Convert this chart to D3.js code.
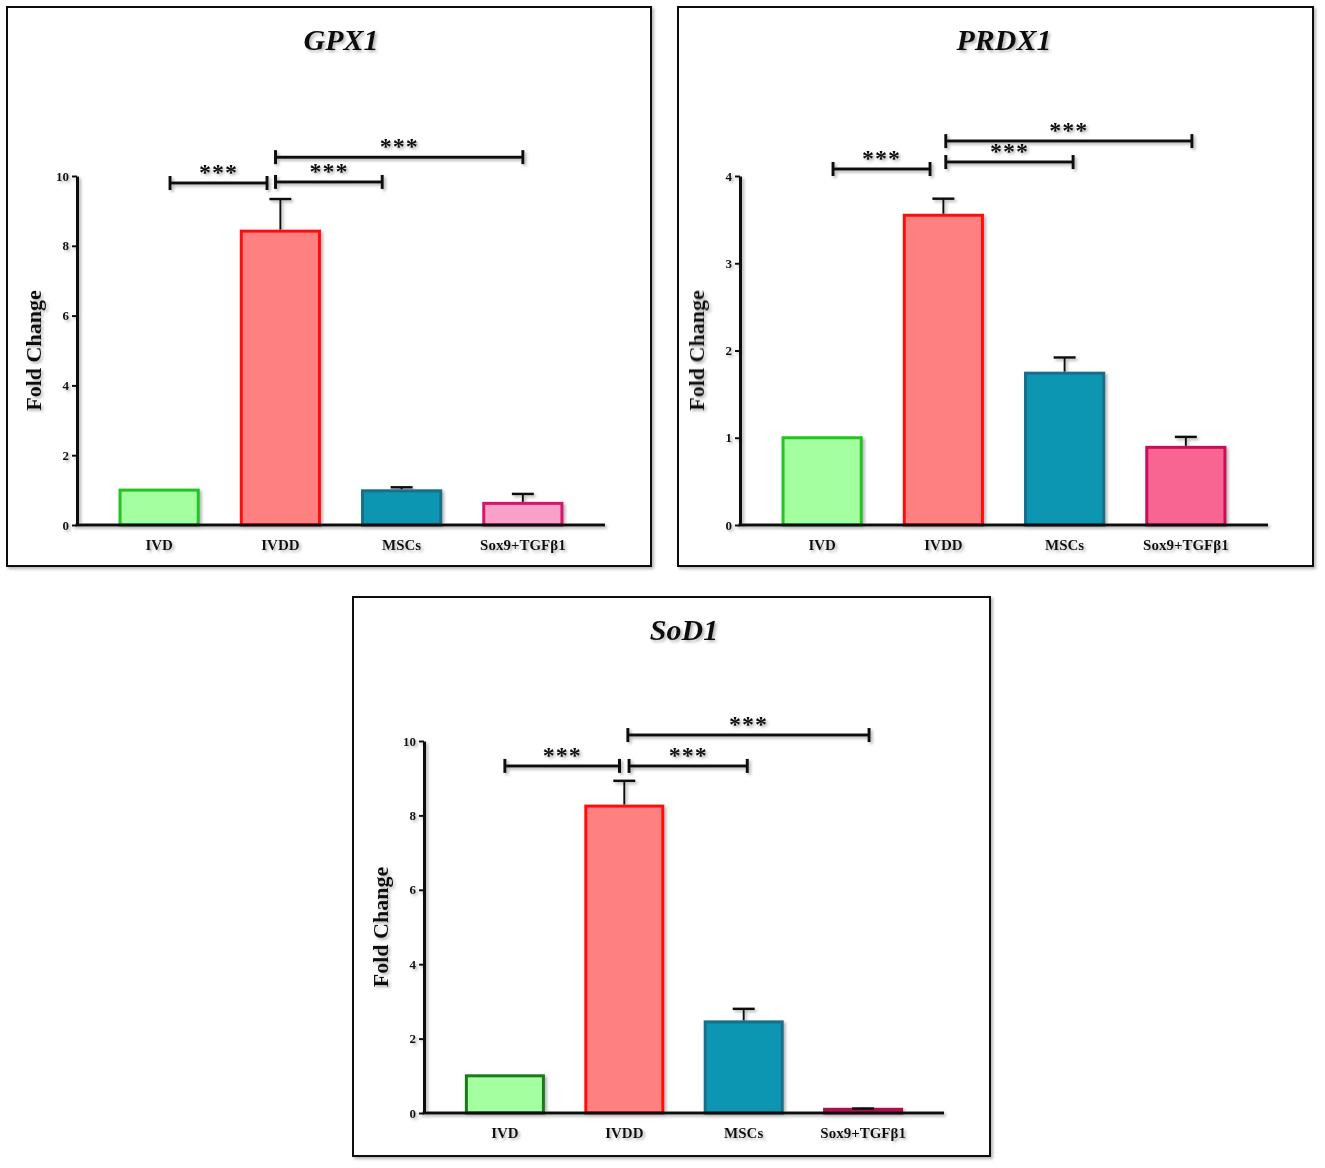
<!DOCTYPE html>
<html>
<head>
<meta charset="utf-8">
<script src="https://cdn.jsdelivr.net/npm/d3@7"></script>
<style>
  body { margin: 0; background: #fff; }
  svg text { font-family: "Liberation Serif", "Times New Roman", serif; }
</style>
</head>
<body>
<div id="chart"></div>
<script>
const categories = ["IVD", "IVDD", "MSCs", "Sox9+TGFβ1"];

const gpx1Mean = [1.0, 8.42, 0.98, 0.62];
const gpx1Err = [0, 0.92, 0.1, 0.27];
const prdx1Mean = [1.0, 3.55, 1.74, 0.89];
const prdx1Err = [0, 0.19, 0.18, 0.12];
const sod1Mean = [1.0, 8.25, 2.45, 0.1];
const sod1Err = [0, 0.68, 0.35, 0.02];

const gpx1Ticks = [0, 2, 4, 6, 8, 10];
const prdx1Ticks = [0, 1, 2, 3, 4];
const sod1Ticks = [0, 2, 4, 6, 8, 10];

// significance brackets: from / to in category index units, height in data units
const gpx1Sig = [
  { from: 0.09, to: 0.89, y: 9.8, label: "***" },
  { from: 0.96, to: 1.84, y: 9.83, label: "***" },
  { from: 0.96, to: 3.0, y: 10.54, label: "***" }
];
const prdx1Sig = [
  { from: 0.09, to: 0.89, y: 4.08, label: "***" },
  { from: 1.02, to: 2.07, y: 4.16, label: "***" },
  { from: 1.02, to: 3.05, y: 4.40, label: "***" }
];
const sod1Sig = [
  { from: 0.0, to: 0.96, y: 9.33, label: "***" },
  { from: 1.04, to: 2.03, y: 9.33, label: "***" },
  { from: 1.03, to: 3.05, y: 10.16, label: "***" }
];

const panels = [
  {
    title: "GPX1", mean: gpx1Mean, err: gpx1Err, ticks: gpx1Ticks, sig: gpx1Sig,
    frame: [7, 7, 651, 566], plot: [77, 176, 605, 525],
    fills: ["#a3ff9f", "#ff8080", "#1196b2", "#f9a0c9"],
    strokes: ["#22c422", "#ff1010", "#16708a", "#d4126c"]
  },
  {
    title: "PRDX1", mean: prdx1Mean, err: prdx1Err, ticks: prdx1Ticks, sig: prdx1Sig,
    frame: [678, 7, 1313, 566], plot: [740, 176, 1268, 525],
    fills: ["#a3ff9f", "#ff8080", "#1196b2", "#f86593"],
    strokes: ["#22c422", "#ff1010", "#16708a", "#c9105c"]
  },
  {
    title: "SoD1", mean: sod1Mean, err: sod1Err, ticks: sod1Ticks, sig: sod1Sig,
    frame: [353, 597, 990, 1156], plot: [424, 741, 944, 1113],
    fills: ["#a3ff9f", "#ff8080", "#1196b2", "#c2185c"],
    strokes: ["#1d7a1d", "#ff1010", "#16708a", "#b0104f"]
  }
];

const svg = d3.select("#chart").append("svg")
  .attr("width", 1325)
  .attr("height", 1168);

const defs = svg.append("defs");
defs.append("filter")
  .attr("id", "shadow")
  .attr("x", "-5%").attr("y", "-5%")
  .attr("width", "115%").attr("height", "115%")
  .append("feDropShadow")
  .attr("dx", 2).attr("dy", 2)
  .attr("stdDeviation", 1.4)
  .attr("flood-color", "#777")
  .attr("flood-opacity", 0.55);

panels.forEach(p => drawPanel(p));

function drawPanel(p) {
  const [fx0, fy0, fx1, fy1] = p.frame;
  const [px0, py0, px1, py1] = p.plot;

  svg.append("rect")
    .attr("x", fx0).attr("y", fy0)
    .attr("width", fx1 - fx0).attr("height", fy1 - fy0)
    .attr("fill", "#fff")
    .attr("stroke", "#111")
    .attr("stroke-width", 2)
    .attr("filter", "url(#shadow)");

  const g = svg.append("g").attr("filter", "url(#shadow)");

  const x = d3.scaleBand().domain(categories).range([px0, px1]).padding(0.355);
  const y = d3.scaleLinear().domain([0, d3.max(p.ticks)]).range([py1, py0]);
  const xi = t => x(categories[0]) + x.bandwidth() / 2 + t * x.step();

  // title
  g.append("text")
    .attr("x", (px0 + px1) / 2)
    .attr("y", fy0 + 43)
    .attr("text-anchor", "middle")
    .attr("font-size", 30)
    .attr("font-weight", "bold")
    .attr("font-style", "italic")
    .attr("fill", "#111")
    .text(p.title);

  // bars
  g.selectAll("rect.bar")
    .data(p.mean)
    .join("rect")
    .attr("class", "bar")
    .attr("x", (d, i) => x(categories[i]))
    .attr("y", d => y(d))
    .attr("width", x.bandwidth())
    .attr("height", d => y(0) - y(d))
    .attr("fill", (d, i) => p.fills[i])
    .attr("stroke", (d, i) => p.strokes[i])
    .attr("stroke-width", 3);

  // error bars
  p.mean.forEach((m, i) => {
    if (!p.err[i]) return;
    const cx = x(categories[i]) + x.bandwidth() / 2;
    g.append("line")
      .attr("x1", cx).attr("x2", cx)
      .attr("y1", y(m) - 1.5).attr("y2", y(m + p.err[i]))
      .attr("stroke", "#111").attr("stroke-width", 2);
    g.append("line")
      .attr("x1", cx - 11).attr("x2", cx + 11)
      .attr("y1", y(m + p.err[i])).attr("y2", y(m + p.err[i]))
      .attr("stroke", "#111").attr("stroke-width", 2.5);
  });

  // y axis
  const yAxis = g.append("g")
    .attr("transform", `translate(${px0},0)`)
    .call(d3.axisLeft(y).tickValues(p.ticks).tickSize(5).tickSizeOuter(0).tickFormat(d3.format("d")));
  yAxis.select(".domain").attr("stroke", "#111").attr("stroke-width", 3);
  yAxis.selectAll(".tick line").attr("stroke", "#111").attr("stroke-width", 2);
  yAxis.selectAll(".tick text")
    .attr("font-family", "Liberation Serif, serif")
    .attr("font-size", 13)
    .attr("font-weight", "bold")
    .attr("fill", "#111")
    .attr("x", -8);

  // x axis
  const xAxis = g.append("g")
    .attr("transform", `translate(0,${py1})`)
    .call(d3.axisBottom(x).tickSize(0).tickSizeOuter(0).tickPadding(14));
  xAxis.select(".domain").attr("stroke", "#111").attr("stroke-width", 3)
    .attr("d", `M${px0 - 1.5},0H${px1}`);
  xAxis.selectAll(".tick text")
    .attr("font-family", "Liberation Serif, serif")
    .attr("font-size", 15)
    .attr("font-weight", "bold")
    .attr("fill", "#111");

  // y label
  g.append("text")
    .attr("transform", `translate(${px0 - 36},${(py0 + py1) / 2}) rotate(-90)`)
    .attr("text-anchor", "middle")
    .attr("font-size", 22)
    .attr("font-weight", "bold")
    .attr("fill", "#111")
    .text("Fold Change");

  // significance brackets
  p.sig.forEach(s => {
    const x1 = xi(s.from), x2 = xi(s.to), yy = y(s.y);
    g.append("line")
      .attr("x1", x1).attr("x2", x2).attr("y1", yy).attr("y2", yy)
      .attr("stroke", "#111").attr("stroke-width", 3);
    [x1, x2].forEach(xx => {
      g.append("line")
        .attr("x1", xx).attr("x2", xx).attr("y1", yy - 7).attr("y2", yy + 7)
        .attr("stroke", "#111").attr("stroke-width", 3);
    });
    g.append("text")
      .attr("x", (x1 + x2) / 2)
      .attr("y", yy - 3)
      .attr("text-anchor", "middle")
      .attr("font-family", "DejaVu Sans, sans-serif")
      .attr("font-size", 24)
      .attr("font-weight", "bold")
      .attr("letter-spacing", 1)
      .attr("fill", "#111")
      .text(s.label);
  });
}
</script>
</body>
</html>
